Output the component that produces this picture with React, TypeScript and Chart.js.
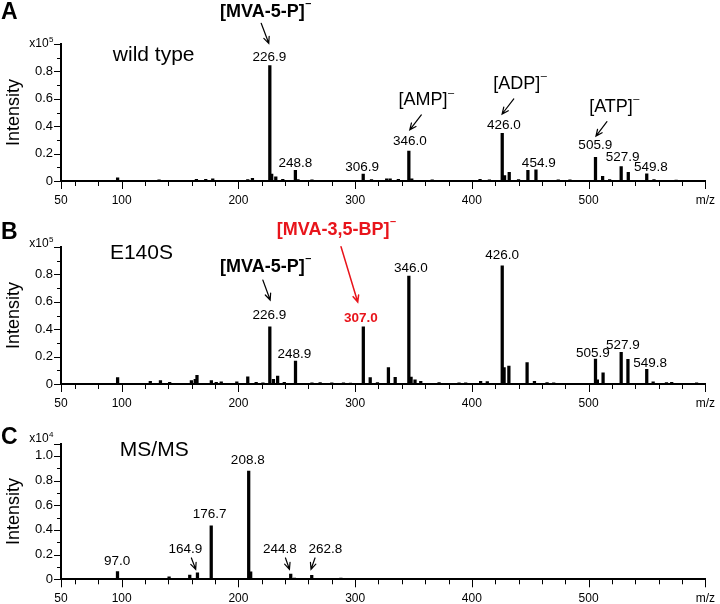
import React, { useEffect, useRef } from 'react';
import { Chart, registerables } from 'chart.js';

Chart.register(...registerables);

const FONT = '"Liberation Sans", Arial, Helvetica, sans-serif';
const BLACK = '#000000';
const RED = '#e8141b';

// ---- x axis (m/z) ----
const X_MIN = 48;
const X_MAX = 600;
const X_MINOR_STEP = 20;
const xLabeledTicks = [100, 200, 300, 400, 500];
const xStartLabel = '50';
const xEndLabel = 'm/z';
const yAxisTitle = 'Intensity';

// ---- Panel A: wild type (x10^5) ----
const mzA = [96.5, 132, 164, 172, 178, 208, 212, 226.9, 228.5, 232, 238, 248.8, 251, 263, 306.9, 314, 327, 330, 337, 346.0, 348.5, 366, 407, 415, 426.0, 428, 432, 440, 448, 454.9, 474, 484, 505.9, 512, 518, 527.9, 534, 549.8, 556, 575];
const intA = [0.024, 0.008, 0.012, 0.012, 0.015, 0.01, 0.02, 0.842, 0.05, 0.03, 0.012, 0.077, 0.01, 0.008, 0.05, 0.01, 0.015, 0.015, 0.012, 0.219, 0.015, 0.008, 0.012, 0.008, 0.348, 0.04, 0.063, 0.01, 0.077, 0.082, 0.008, 0.008, 0.173, 0.034, 0.01, 0.106, 0.063, 0.053, 0.01, 0.006];

// ---- Panel B: E140S (x10^5) ----
const mzB = [96.5, 124.5, 133.2, 141.1, 159.7, 163, 164.5, 176.8, 181, 185.3, 198.6, 208, 215.2, 221, 226.9, 230, 233.6, 239.3, 248.9, 263, 270, 280, 290, 296, 307.0, 312.9, 319.1, 328.5, 334.3, 346.0, 347.9, 351.3, 356.2, 371.9, 389, 394.7, 407.5, 413.2, 426.0, 427.6, 431.7, 447.3, 453.6, 464.4, 470.1, 505.9, 507.5, 512.4, 527.9, 533.7, 549.8, 555.3, 566.7, 571.2, 592.5];
const intB = [0.046, 0.02, 0.025, 0.012, 0.025, 0.035, 0.063, 0.025, 0.012, 0.015, 0.015, 0.053, 0.012, 0.008, 0.418, 0.035, 0.058, 0.012, 0.168, 0.008, 0.01, 0.008, 0.008, 0.006, 0.418, 0.046, 0.01, 0.12, 0.049, 0.788, 0.05, 0.03, 0.02, 0.01, 0.008, 0.008, 0.02, 0.018, 0.863, 0.12, 0.13, 0.156, 0.02, 0.01, 0.008, 0.182, 0.03, 0.082, 0.231, 0.18, 0.107, 0.015, 0.01, 0.012, 0.008];

// ---- Panel C: MS/MS (x10^4) ----
const mzC = [96.4, 140.6, 158.3, 164.9, 176.7, 195, 208.8, 210.5, 235.7, 244.8, 248, 262.8, 287.8, 305];
const intC = [0.062, 0.021, 0.035, 0.053, 0.434, 0.006, 0.877, 0.06, 0.008, 0.043, 0.01, 0.032, 0.01, 0.008];

type Label = { text: string; x: number; y: number; bold?: boolean; color?: string; size?: number; align?: 'left' | 'center'; sup?: string };
type Arrow = { x1: number; y1: number; x2: number; y2: number; color?: string };

const labelsA: Label[] = [
  { text: 'wild type', x: 92.4, y: 0.92, size: 21, align: 'left' },
  { text: '[MVA-5-P]', sup: '–', x: 223.2, y: 1.234, bold: true, size: 18 },
  { text: '226.9', x: 226.6, y: 0.905 },
  { text: '248.8', x: 248.8, y: 0.131 },
  { text: '306.9', x: 306.0, y: 0.102 },
  { text: '[AMP]', sup: '–', x: 360.7, y: 0.591, size: 18 },
  { text: '346.0', x: 346.8, y: 0.287 },
  { text: '[ADP]', sup: '–', x: 441.1, y: 0.708, size: 18 },
  { text: '426.0', x: 427.4, y: 0.409 },
  { text: '454.9', x: 457.3, y: 0.129 },
  { text: '[ATP]', sup: '–', x: 521.8, y: 0.542, size: 18 },
  { text: '505.9', x: 505.7, y: 0.263 },
  { text: '527.9', x: 529.1, y: 0.17 },
  { text: '549.8', x: 553.3, y: 0.1 },
];
const arrowsA: Arrow[] = [
  { x1: 219.5, y1: 1.151, x2: 226.0, y2: 1.005 },
  { x1: 356.7, y1: 0.482, x2: 346.8, y2: 0.374 },
  { x1: 435.9, y1: 0.599, x2: 425.9, y2: 0.489 },
  { x1: 515.7, y1: 0.433, x2: 506.3, y2: 0.328 },
];

const labelsB: Label[] = [
  { text: 'E140S', x: 89.9, y: 0.956, size: 21, align: 'left' },
  { text: '[MVA-5-P]', sup: '–', x: 223.2, y: 0.856, bold: true, size: 18 },
  { text: '226.9', x: 226.6, y: 0.504 },
  { text: '248.9', x: 248.0, y: 0.217 },
  { text: '[MVA-3,5-BP]', sup: '–', x: 283.8, y: 1.124, bold: true, size: 18, color: RED },
  { text: '307.0', x: 304.9, y: 0.48, bold: true, color: RED },
  { text: '346.0', x: 347.7, y: 0.842 },
  { text: '426.0', x: 425.9, y: 0.942 },
  { text: '505.9', x: 503.7, y: 0.224 },
  { text: '527.9', x: 529.3, y: 0.285 },
  { text: '549.8', x: 552.7, y: 0.151 },
];
const arrowsB: Arrow[] = [
  { x1: 220.9, y1: 0.759, x2: 227.2, y2: 0.613 },
  { x1: 287.9, y1: 1.002, x2: 302.2, y2: 0.599, color: RED },
];

const labelsC: Label[] = [
  { text: 'MS/MS', x: 98.4, y: 1.042, size: 21, align: 'left' },
  { text: '97.0', x: 96.1, y: 0.143 },
  { text: '164.9', x: 154.6, y: 0.245 },
  { text: '176.7', x: 175.3, y: 0.527 },
  { text: '208.8', x: 208.0, y: 0.966 },
  { text: '244.8', x: 235.6, y: 0.245 },
  { text: '262.8', x: 274.4, y: 0.245 },
];
const arrowsC: Arrow[] = [
  { x1: 159.7, y1: 0.173, x2: 163.4, y2: 0.081 },
  { x1: 240.3, y1: 0.173, x2: 243.7, y2: 0.081 },
  { x1: 265.6, y1: 0.173, x2: 262.2, y2: 0.081 },
];

type Panel = {
  letter: string; exp: string; yMax: number; mz: number[]; inten: number[];
  labels: Label[]; arrows: Arrow[];
  top: number; height: number; padTop: number; xH: number; letterY: number; expY: number;
};

const panels: Panel[] = [
  { letter: 'A', exp: '5', yMax: 1.0, mz: mzA, inten: intA, labels: labelsA, arrows: arrowsA, top: 0, height: 210, padTop: 44, xH: 29, letterY: 12.5, expY: 43.5 },
  { letter: 'B', exp: '5', yMax: 1.0, mz: mzB, inten: intB, labels: labelsB, arrows: arrowsB, top: 210, height: 200, padTop: 37, xH: 26, letterY: 22.5, expY: 34 },
  { letter: 'C', exp: '4', yMax: 1.1, mz: mzC, inten: intC, labels: labelsC, arrows: arrowsC, top: 410, height: 194, padTop: 33.5, xH: 24.7, letterY: 27.5, expY: 29 },
];

function xTickValues(): number[] {
  const v: number[] = [X_MIN];
  for (let t = 60; t <= X_MAX; t += X_MINOR_STEP) v.push(t);
  return v;
}
function xTickLabel(v: number): string {
  if (v === X_MIN) return xStartLabel;
  if (v === X_MAX) return xEndLabel;
  return xLabeledTicks.includes(v) ? String(v) : '';
}

function drawArrow(ctx: CanvasRenderingContext2D, x1: number, y1: number, x2: number, y2: number, color: string) {
  const ang = Math.atan2(y2 - y1, x2 - x1);
  const head = 7;
  const spread = 0.42;
  ctx.save();
  ctx.strokeStyle = color;
  ctx.lineWidth = color === BLACK ? 1.2 : 1.5;
  ctx.lineCap = 'round';
  ctx.beginPath();
  ctx.moveTo(x1, y1);
  ctx.lineTo(x2, y2);
  ctx.moveTo(x2 - head * Math.cos(ang - spread), y2 - head * Math.sin(ang - spread));
  ctx.lineTo(x2, y2);
  ctx.lineTo(x2 - head * Math.cos(ang + spread), y2 - head * Math.sin(ang + spread));
  ctx.stroke();
  ctx.restore();
}

function makeDecor(p: Panel) {
  return {
    id: 'decor' + p.letter,
    afterDraw(chart: any) {
      const ctx: CanvasRenderingContext2D = chart.ctx;
      const xs = chart.scales.x;
      const ys = chart.scales.y;
      const ca = chart.chartArea;
      ctx.save();
      ctx.strokeStyle = BLACK;
      ctx.lineWidth = 1;
      // x ticks
      for (const t of xs.ticks) {
        const v = t.value;
        const major = v === X_MIN || v === X_MAX || xLabeledTicks.includes(v);
        const px = Math.round(xs.getPixelForValue(v)) + 0.5;
        ctx.beginPath();
        ctx.moveTo(px, ca.bottom);
        ctx.lineTo(px, ca.bottom + (major ? 8 : 5));
        ctx.stroke();
      }
      // y ticks
      for (const t of ys.ticks) {
        const v = t.value;
        const k = Math.round(v * 10);
        const major = k % 2 === 0 || Math.abs(v - p.yMax) < 1e-6;
        const py = Math.round(ys.getPixelForValue(v)) + 0.5;
        ctx.beginPath();
        ctx.moveTo(ca.left - (major ? 7 : 4), py);
        ctx.lineTo(ca.left, py);
        ctx.stroke();
      }
      ctx.fillStyle = BLACK;
      // panel letter
      ctx.font = `bold 23px ${FONT}`;
      ctx.textAlign = 'left';
      ctx.textBaseline = 'middle';
      ctx.fillText(p.letter, 1, p.letterY);
      // exponent label
      ctx.font = `12px ${FONT}`;
      const mainW = ctx.measureText('x10').width;
      ctx.font = `8px ${FONT}`;
      const supW = ctx.measureText(p.exp).width;
      const ex0 = 53 - mainW - supW;
      ctx.font = `12px ${FONT}`;
      ctx.fillText('x10', ex0, p.expY);
      ctx.font = `8px ${FONT}`;
      ctx.fillText(p.exp, ex0 + mainW + 0.5, p.expY - 4);
      // y title
      ctx.save();
      ctx.translate(14, (ca.top + ca.bottom) / 2);
      ctx.rotate(-Math.PI / 2);
      ctx.font = `18px ${FONT}`;
      ctx.textAlign = 'center';
      ctx.textBaseline = 'middle';
      ctx.fillText(yAxisTitle, 0, 0);
      ctx.restore();
      // labels
      for (const l of p.labels) {
        const size = l.size || 13.5;
        const font = `${l.bold ? 'bold ' : ''}${size}px ${FONT}`;
        const supFont = `${l.bold ? 'bold ' : ''}${Math.round(size * 0.62)}px ${FONT}`;
        ctx.font = font;
        const w = ctx.measureText(l.text).width;
        let sw = 0;
        if (l.sup) {
          ctx.font = supFont;
          sw = ctx.measureText(l.sup).width;
        }
        const cx = xs.getPixelForValue(l.x);
        const cy = ys.getPixelForValue(l.y);
        const x0 = l.align === 'left' ? cx : cx - (w + sw) / 2;
        ctx.fillStyle = l.color || BLACK;
        ctx.textAlign = 'left';
        ctx.textBaseline = 'middle';
        ctx.font = font;
        ctx.fillText(l.text, x0, cy);
        if (l.sup) {
          ctx.font = supFont;
          ctx.fillText(l.sup, x0 + w + 0.5, cy - size * 0.42);
        }
      }
      // arrows
      for (const a of p.arrows) {
        drawArrow(ctx, xs.getPixelForValue(a.x1), ys.getPixelForValue(a.y1), xs.getPixelForValue(a.x2), ys.getPixelForValue(a.y2), a.color || BLACK);
      }
      ctx.restore();
    },
  };
}

function SpectrumPanel({ p }: { p: Panel }) {
  const ref = useRef<HTMLCanvasElement | null>(null);
  useEffect(() => {
    if (!ref.current) return;
    const yTicks: number[] = [];
    for (let i = 0; i <= Math.round(p.yMax * 10); i++) yTicks.push(i / 10);
    const chart = new Chart(ref.current, {
      type: 'bar',
      data: {
        datasets: [
          {
            data: p.mz.map((m, i) => ({ x: m, y: p.inten[i] })),
            backgroundColor: BLACK,
            borderWidth: 0,
            barThickness: 2.6,
          } as any,
        ],
      },
      options: {
        responsive: false,
        animation: false,
        devicePixelRatio: 1,
        layout: { padding: { top: p.padTop, right: 13, bottom: 0, left: 0 } },
        plugins: { legend: { display: false }, tooltip: { enabled: false } },
        scales: {
          x: {
            type: 'linear',
            min: X_MIN,
            max: X_MAX,
            offset: false,
            afterBuildTicks: (s: any) => { s.ticks = xTickValues().map((v) => ({ value: v })); },
            afterFit: (s: any) => { s.height = p.xH; },
            grid: { display: true, drawOnChartArea: false, drawTicks: true, tickLength: 7, tickColor: 'rgba(0,0,0,0)' },
            border: { display: true, color: BLACK, width: 2 },
            ticks: {
              autoSkip: false, maxRotation: 0, minRotation: 0, padding: 5, color: BLACK,
              font: { family: FONT, size: 12 },
              callback: (v: any) => xTickLabel(Number(v)),
            },
          },
          y: {
            type: 'linear',
            min: 0,
            max: p.yMax,
            afterBuildTicks: (s: any) => { s.ticks = yTicks.map((v) => ({ value: v })); },
            afterFit: (s: any) => { s.width = 61; },
            grid: { display: true, drawOnChartArea: false, drawTicks: true, tickLength: 7, tickColor: 'rgba(0,0,0,0)' },
            border: { display: true, color: BLACK, width: 2 },
            ticks: {
              autoSkip: false, padding: 1, color: BLACK,
              font: { family: FONT, size: 13 },
              callback: (v: any) => {
                const n = Number(v);
                const k = Math.round(n * 10);
                if (k % 2 !== 0 || k > 10) return '';
                if (k === 10 && p.yMax <= 1.0) return '';
                return k === 0 ? '0' : (k / 10).toFixed(1);
              },
            },
          },
        },
      } as any,
      plugins: [makeDecor(p)],
    });
    return () => chart.destroy();
  }, [p]);
  return (
    <div style={{ position: 'absolute', left: 0, top: p.top, width: 720, height: p.height }}>
      <canvas ref={ref} width={720} height={p.height} style={{ display: 'block' }} />
    </div>
  );
}

export default function App() {
  useEffect(() => {
    document.body.style.margin = '0';
    document.body.style.background = '#ffffff';
  }, []);
  return (
    <div style={{ position: 'relative', width: 720, height: 604, background: '#ffffff', overflow: 'hidden' }}>
      {panels.map((p) => (
        <SpectrumPanel key={p.letter} p={p} />
      ))}
    </div>
  );
}
